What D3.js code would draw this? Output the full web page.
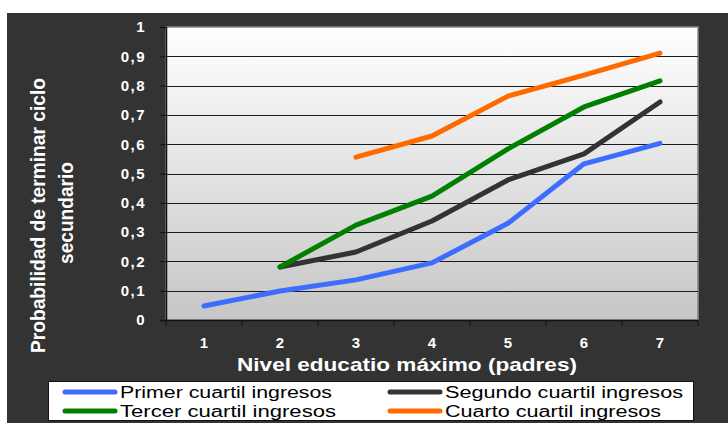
<!DOCTYPE html>
<html><head><meta charset="utf-8">
<script src="https://cdn.jsdelivr.net/npm/d3@7"></script>
<style>body{margin:0;background:#fff;}svg{display:block;}</style>
</head><body><svg id="c" width="728" height="423"></svg>
<script>
const categories = ["1","2","3","4","5","6","7"];
const yTicks = [0,0.1,0.2,0.3,0.4,0.5,0.6,0.7,0.8,0.9,1];
const seriesNames = ["Primer cuartil ingresos","Segundo cuartil ingresos","Tercer cuartil ingresos","Cuarto cuartil ingresos"];
const primer  = [0.048,0.099,0.137,0.195,0.33,0.533,0.603];
const segundo = [null,0.181,0.232,0.338,0.478,0.567,0.744];
const tercer  = [null,0.181,0.324,0.423,0.584,0.727,0.816];
const cuarto  = [null,null,0.556,0.628,0.764,0.836,0.911];
const colors = ["#3d6dff","#333333","#008000","#ff6a00"];
const allSeries = [primer, segundo, tercer, cuarto];
const FONT = "Arial, 'Liberation Sans', sans-serif";

const svg = d3.select("#c");
svg.append("rect").attr("x",7).attr("y",13).attr("width",721).attr("height",410).attr("fill","#333333");

const L=166,T=27,R=698,B=320;
const x = d3.scaleBand().domain(categories).range([L,R]);
const y = d3.scaleLinear().domain([0,1]).range([B,T]);

const defs = svg.append("defs");
const g = defs.append("linearGradient").attr("id","bg").attr("x1",0).attr("y1",0).attr("x2",0).attr("y2",1);
g.append("stop").attr("offset","0%").attr("stop-color","#ffffff");
g.append("stop").attr("offset","100%").attr("stop-color","#c6c6c6");
svg.append("rect").attr("x",L).attr("y",T).attr("width",R-L).attr("height",B-T).attr("fill","url(#bg)")
  .attr("stroke","#888").attr("stroke-width",1.5);

svg.append("g").selectAll("line").data(yTicks.filter(d=>d>0&&d<1)).join("line")
  .attr("x1",L).attr("x2",R).attr("y1",d=>Math.round(y(d))+0.5).attr("y2",d=>Math.round(y(d))+0.5)
  .attr("stroke","#1a1a1a").attr("stroke-width",1);

const yAxis = d3.axisLeft(y).tickValues(yTicks).tickSize(6).tickPadding(14)
  .tickFormat(d=> d===0?"0":d===1?"1":d3.format(".1f")(d).replace(".",","));
const ya = svg.append("g").attr("transform",`translate(${L},0)`).call(yAxis);
ya.select(".domain").attr("stroke","#111").attr("stroke-width",1.5);
ya.selectAll(".tick line").attr("stroke","#111");
ya.selectAll("text").attr("fill","#fff").attr("font-family",FONT)
  .attr("font-size",15).attr("font-weight","bold").attr("letter-spacing","1.5px");

const xAxis = d3.axisBottom(x).tickSize(0).tickPadding(17);
const xa = svg.append("g").attr("transform",`translate(0,${B})`).call(xAxis);
xa.select(".domain").attr("stroke","#111").attr("stroke-width",1.5);
xa.selectAll("text").attr("fill","#fff").attr("font-family",FONT)
  .attr("font-size",15).attr("font-weight","bold");
const bounds = categories.map(c=>x(c)).concat([R]);
xa.append("g").selectAll("line").data(bounds).join("line")
  .attr("x1",d=>d).attr("x2",d=>d).attr("y1",0).attr("y2",6).attr("stroke","#111");

const line = d3.line().defined(d=>d!=null).x((d,i)=>x(categories[i])+x.bandwidth()/2).y(d=>y(d));
allSeries.forEach((s,i)=>{
  svg.append("path").datum(s).attr("d",line).attr("fill","none").attr("stroke",colors[i])
    .attr("stroke-width",5).attr("stroke-linecap","round").attr("stroke-linejoin","round");
});

svg.append("text").attr("x",237).attr("y",371)
  .attr("fill","#fff").attr("font-family",FONT).attr("font-size",19)
  .attr("font-weight","bold").attr("textLength",340).attr("lengthAdjust","spacingAndGlyphs")
  .text("Nivel educatio máximo (padres)");
svg.append("text").attr("transform","translate(45,353) rotate(-90)")
  .attr("fill","#fff").attr("font-family",FONT).attr("font-size",20).attr("font-weight","bold")
  .attr("textLength",275).attr("lengthAdjust","spacingAndGlyphs").text("Probabilidad de terminar ciclo");
svg.append("text").attr("transform","translate(73,264) rotate(-90)")
  .attr("fill","#fff").attr("font-family",FONT).attr("font-size",20).attr("font-weight","bold")
  .attr("textLength",102).attr("lengthAdjust","spacingAndGlyphs").text("secundario");

svg.append("rect").attr("x",48.5).attr("y",381.5).attr("width",645).attr("height",39).attr("fill","#fff").attr("stroke","#111");
const legPos = [[63,392],[388,392],[63,411],[388,411]];
const legLen = [212,238,216,216];
seriesNames.forEach((n,i)=>{
  const [lx,ly]=legPos[i];
  svg.append("line").attr("x1",lx+2).attr("x2",lx+52).attr("y1",ly).attr("y2",ly).attr("stroke",colors[i])
    .attr("stroke-width",5).attr("stroke-linecap","round");
  svg.append("text").attr("x",lx+57).attr("y",ly+5.5).attr("fill","#000")
    .attr("font-family",FONT).attr("font-size",16)
    .attr("textLength",legLen[i]).attr("lengthAdjust","spacingAndGlyphs").text(n);
});
</script></body></html>
